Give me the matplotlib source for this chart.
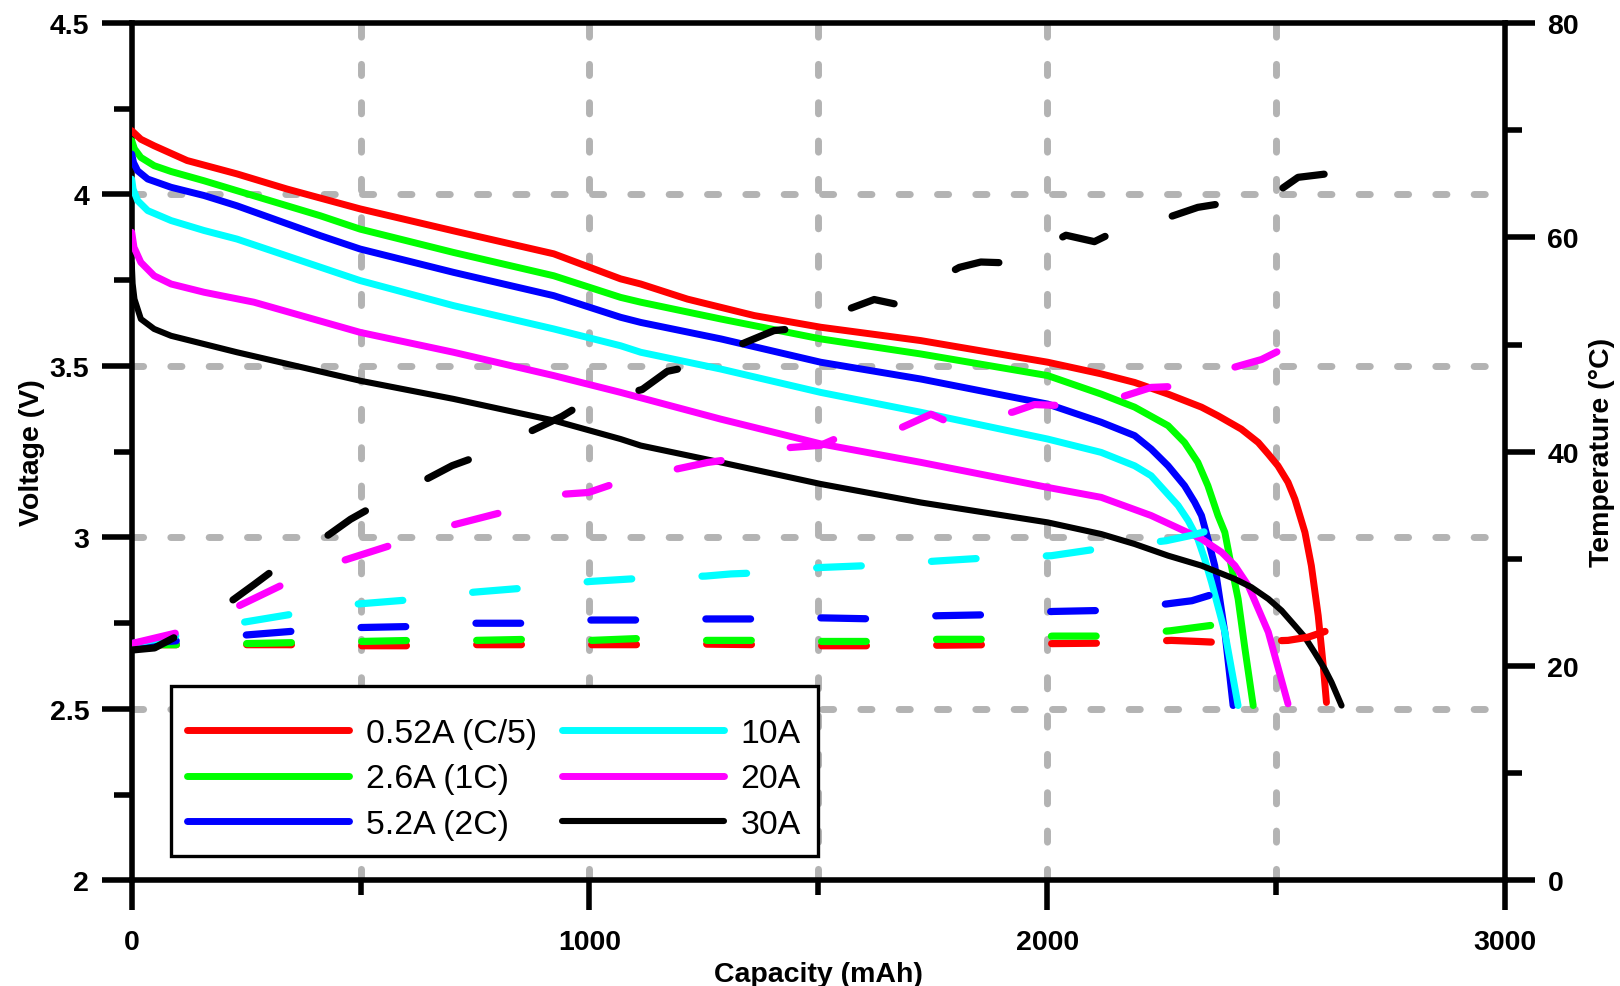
import matplotlib
matplotlib.use("Agg")
import matplotlib.pyplot as plt

plt.rcParams.update({
    "font.family": ["Liberation Sans", "DejaVu Sans"],
    "font.weight": "bold",
    "lines.scale_dashes": False,
})

# ---- discharge curves (capacity mAh, voltage V) ----
cap_052 = [0, 20, 49, 121, 230, 339, 499, 703, 922, 1068, 1112, 1214, 1360, 1505, 1724, 2001,
           2118, 2191, 2264, 2337, 2373, 2424, 2461, 2483, 2504, 2526, 2541, 2563, 2577, 2592,
           2603, 2610]
v_052 = [4.186, 4.161, 4.142, 4.099, 4.060, 4.016, 3.958, 3.894, 3.827, 3.754, 3.739, 3.695,
         3.647, 3.613, 3.574, 3.511, 3.477, 3.452, 3.418, 3.380, 3.355, 3.316, 3.277, 3.243,
         3.209, 3.161, 3.112, 3.015, 2.918, 2.772, 2.626, 2.519]

cap_26 = [0, 6, 20, 49, 86, 158, 230, 412, 499, 703, 922, 1068, 1112, 1287, 1505, 1724, 2001,
          2118, 2191, 2264, 2300, 2329, 2351, 2373, 2388, 2402, 2417, 2432, 2450]
v_26 = [4.157, 4.133, 4.108, 4.084, 4.067, 4.040, 4.011, 3.938, 3.899, 3.831, 3.763, 3.700,
        3.686, 3.637, 3.579, 3.535, 3.472, 3.418, 3.380, 3.326, 3.277, 3.219, 3.151, 3.064,
        3.015, 2.918, 2.821, 2.675, 2.510]

cap_52 = [0, 4, 13, 35, 86, 158, 230, 412, 499, 703, 922, 1068, 1112, 1287, 1505, 1724, 2001,
          2118, 2191, 2227, 2264, 2300, 2322, 2337, 2351, 2366, 2388, 2406]
v_52 = [4.118, 4.093, 4.069, 4.045, 4.021, 3.997, 3.967, 3.880, 3.841, 3.773, 3.705, 3.642,
        3.627, 3.579, 3.511, 3.462, 3.389, 3.336, 3.297, 3.258, 3.209, 3.151, 3.103, 3.064,
        2.996, 2.918, 2.724, 2.510]

cap_10 = [0, 3, 13, 35, 86, 158, 230, 499, 703, 922, 1068, 1112, 1287, 1505, 1724, 2001, 2118,
          2191, 2227, 2286, 2308, 2329, 2344, 2359, 2388, 2417]
v_10 = [4.045, 4.016, 3.982, 3.953, 3.924, 3.895, 3.870, 3.749, 3.676, 3.608, 3.559, 3.540,
        3.491, 3.423, 3.365, 3.287, 3.248, 3.209, 3.180, 3.093, 3.049, 2.996, 2.937, 2.869,
        2.724, 2.510]

cap_20 = [0, 5, 20, 49, 86, 158, 267, 499, 703, 922, 1068, 1287, 1505, 1724, 2001, 2118, 2227,
          2337, 2381, 2410, 2439, 2461, 2483, 2497, 2526]
v_20 = [3.890, 3.846, 3.802, 3.763, 3.739, 3.715, 3.686, 3.598, 3.540, 3.472, 3.423, 3.345,
        3.273, 3.219, 3.146, 3.117, 3.064, 2.996, 2.957, 2.918, 2.860, 2.792, 2.724, 2.656,
        2.515]

cap_30 = [0, 2, 6, 20, 49, 86, 158, 230, 499, 703, 922, 1068, 1112, 1287, 1505, 1724, 2001,
          2118, 2191, 2264, 2337, 2410, 2446, 2483, 2512, 2541, 2563, 2584, 2606, 2621, 2643]
v_30 = [3.80, 3.74, 3.695, 3.637, 3.608, 3.588, 3.564, 3.540, 3.457, 3.404, 3.341, 3.287,
        3.268, 3.219, 3.156, 3.102, 3.044, 3.010, 2.981, 2.947, 2.918, 2.879, 2.855, 2.821,
        2.787, 2.743, 2.709, 2.665, 2.617, 2.578, 2.510]

# ---- temperature curves (capacity mAh, temperature degC) ----
tc_052 = [0, 108, 230, 340, 500, 617, 750, 865, 1005, 1120, 1256, 1375, 1508, 1628, 1761, 1880,
          2013, 2133, 2271, 2330, 2380, 2526, 2570, 2632]
t_052 = [22.0, 22.0, 22.0, 22.0, 21.9, 21.9, 22.0, 22.0, 22.0, 22.0, 22.05, 22.0, 21.9, 21.9,
         21.95, 22.0, 22.1, 22.15, 22.4, 22.3, 22.2, 22.4, 22.7, 23.6]

tc_26 = [0, 108, 249, 366, 500, 617, 752, 869, 1005, 1122, 1256, 1375, 1508, 1628, 1761, 1880,
         2013, 2133, 2270, 2376, 2450]
t_26 = [22.0, 22.0, 22.1, 22.2, 22.3, 22.4, 22.4, 22.5, 22.4, 22.6, 22.4, 22.4, 22.3, 22.3,
        22.5, 22.5, 22.8, 22.8, 23.3, 23.9, 24.3]

tc_52 = [0, 108, 249, 366, 500, 617, 752, 869, 1005, 1122, 1256, 1375, 1508, 1628, 1761, 1880,
         2013, 2128, 2261, 2316, 2362, 2406]
t_52 = [22.0, 22.4, 22.9, 23.3, 23.6, 23.7, 24.0, 24.0, 24.3, 24.3, 24.4, 24.4, 24.5, 24.4,
        24.7, 24.8, 25.1, 25.2, 25.8, 26.1, 26.7, 27.5]

tc_10 = [0, 108, 245, 358, 495, 612, 748, 863, 1002, 1116, 1254, 1309, 1367, 1505, 1622, 1757,
         1870, 2009, 2121, 2260, 2315, 2366, 2417]
t_10 = [22.1, 22.9, 24.1, 24.9, 25.8, 26.2, 26.9, 27.3, 27.9, 28.2, 28.4, 28.6, 28.7, 29.2,
        29.4, 29.8, 30.1, 30.3, 31.0, 31.7, 32.2, 32.8, 33.5]

tc_20 = [0, 108, 233, 335, 466, 576, 705, 814, 947, 998, 1060, 1192, 1258, 1309, 1440, 1505,
         1553, 1684, 1746, 1793, 1925, 1972, 2038, 2169, 2227, 2282, 2410, 2468, 2515]
t_20 = [22.1, 23.2, 25.6, 27.7, 29.9, 31.4, 33.2, 34.4, 36.05, 36.2, 37.1, 38.4, 39.0, 39.3,
        40.4, 40.6, 41.5, 42.3, 43.5, 42.6, 43.7, 44.4, 44.3, 45.2, 46.0, 46.1, 47.9, 48.6, 49.6]

tc_30 = [0, 50, 108, 222, 267, 311, 432, 478, 528, 651, 700, 758, 881, 940, 982, 1115, 1170,
         1214, 1341, 1403, 1451, 1578, 1622, 1666, 1688, 1808, 1855, 1925, 2041, 2103, 2146,
         2267, 2329, 2373, 2501, 2548, 2606]
t_30 = [21.5, 21.7, 23.0, 26.2, 27.6, 29.0, 32.3, 33.7, 34.9, 37.6, 38.7, 39.6, 42.1, 43.3,
        44.4, 45.8, 47.5, 47.9, 50.2, 51.3, 51.5, 53.5, 54.2, 53.8, 54.4, 57.2, 57.7, 57.6,
        60.2, 59.6, 60.5, 61.9, 62.8, 63.1, 64.2, 65.6, 65.9]

labels = ["0.52A (C/5)", "2.6A (1C)", "5.2A (2C)", "10A", "20A", "30A"]
colors = ["#ff0000", "#00ff00", "#0000ff", "#00ffff", "#ff00ff", "#000000"]
volt_series = [(cap_052, v_052), (cap_26, v_26), (cap_52, v_52),
               (cap_10, v_10), (cap_20, v_20), (cap_30, v_30)]
temp_series = [(tc_052, t_052), (tc_26, t_26), (tc_52, t_52),
               (tc_10, t_10), (tc_20, t_20), (tc_30, t_30)]

grid_x = [500, 1000, 1500, 2000, 2500]
grid_y = [2.5, 3.0, 3.5, 4.0]

fig = plt.figure(figsize=(16.2, 9.87), dpi=100)
ax = fig.add_axes([0.0813, 0.1069, 0.8477, 0.8688])
ax2 = ax.twinx()

gray = "#b3b3b3"
for gx in grid_x:
    ax.axvline(gx, color=gray, lw=5, ls=(0, (8, 19.6)), dash_capstyle="round", zorder=1)
for gy in grid_y:
    ax.axhline(gy, color=gray, lw=5, ls=(0, (8, 19.6)), dash_capstyle="round", zorder=1)

handles = []
for (x, y), c, lab in zip(volt_series, colors, labels):
    lw = 4.4 if c == "#000000" else 5.0
    h, = ax.plot(x, y, color=c, lw=lw, label=lab, solid_capstyle="round",
                 solid_joinstyle="round", zorder=3)
    handles.append(h)

for (x, y), c in zip(temp_series, colors):
    ax2.plot(x, y, color=c, lw=5.2, dashes=(32.2, 50.6), dash_capstyle="round",
             dash_joinstyle="round")

ax.set_xlim(0, 3000)
ax.set_ylim(2, 4.5)
ax2.set_ylim(0, 80)

ax.set_xticks([0, 1000, 2000, 3000])
ax.set_xticks([500, 1500, 2500], minor=True)
ax.set_yticks([2, 2.5, 3, 3.5, 4, 4.5])
ax.set_yticklabels(["2", "2.5", "3", "3.5", "4", "4.5"])
ax.set_yticks([2.25, 2.75, 3.25, 3.75, 4.25], minor=True)
ax2.set_yticks([0, 20, 40, 60, 80])
ax2.set_yticks([10, 30, 50, 70], minor=True)

ax.tick_params(axis="x", which="major", direction="out", length=21.6, width=4,
               pad=13, labelsize=20.5)
ax.tick_params(axis="x", which="minor", direction="out", length=10.8, width=4)
ax.tick_params(axis="y", which="major", direction="out", length=21.6, width=4,
               pad=9, labelsize=20.5)
ax.tick_params(axis="y", which="minor", direction="out", length=13, width=4)
ax2.tick_params(axis="y", which="major", direction="out", length=21.6, width=4,
                pad=9, labelsize=20.5)
ax2.tick_params(axis="y", which="minor", direction="out", length=12, width=4)

for s in ["left", "bottom", "top"]:
    ax.spines[s].set_linewidth(4)
ax.spines["right"].set_visible(False)
for s in ["left", "bottom", "top"]:
    ax2.spines[s].set_visible(False)
ax2.spines["right"].set_linewidth(4)

ax.set_xlabel("Capacity (mAh)", fontsize=20.5, fontweight="bold", labelpad=5)
ax.set_ylabel("Voltage (V)", fontsize=20.5, fontweight="bold", labelpad=3)
ax2.set_ylabel("Temperature (\u00b0C)", fontsize=20.5, fontweight="bold", labelpad=7)

# blank tiny title only adds some room above the first row, as in the original box
leg = ax.legend(handles=handles, labels=labels, ncol=2, loc="lower left",
                bbox_to_anchor=(0.0283, 0.0280), borderaxespad=0,
                prop={"weight": "normal", "size": 24.3},
                title=" ", title_fontsize=1,
                handlelength=4.8, handletextpad=0.5, columnspacing=0.72,
                labelspacing=0.42, borderpad=0.5, fancybox=False, framealpha=1)
leg.get_frame().set_edgecolor("black")
leg.get_frame().set_linewidth(2.4)
leg.set_zorder(5)

fig.savefig("out.png", dpi=100)
